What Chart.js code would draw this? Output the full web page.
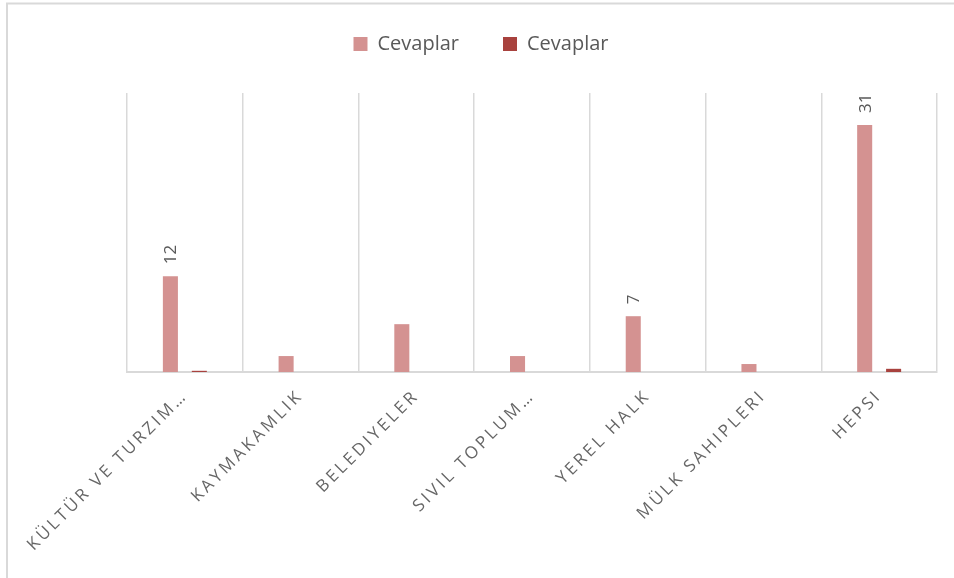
<!DOCTYPE html>
<html>
<head>
<meta charset="utf-8">
<script src="https://cdn.jsdelivr.net/npm/chart.js@4"></script>
<style>
  html, body { margin: 0; padding: 0; background: #fff; }
  #wrap { width: 954px; height: 578px; position: relative; }
</style>
</head>
<body>
<div id="wrap"><canvas id="chart" width="954" height="578"></canvas></div>
<script>
// chart data
const categories = ["KÜLTÜR VE TURZIM…", "KAYMAKAMLIK", "BELEDIYELER", "SIVIL TOPLUM…", "YEREL HALK", "MÜLK SAHIPLERI", "HEPSI"];
const answers = [12, 2, 6, 2, 7, 1, 31];
const answersShare = [0.15, 0, 0, 0, 0, 0, 0.4];
const labelShown = [true, false, false, false, true, false, true];
const yMax = 35;

const gray = "#595959";
const gridColor = "#d9d9d9";

// outer frame like the original sheet object
const framePlugin = {
    id: "frame",
    beforeDraw(chart) {
        const ctx = chart.ctx;
        ctx.save();
        ctx.strokeStyle = gridColor;
        ctx.lineWidth = 2;
        ctx.beginPath();
        ctx.moveTo(7, 578);
        ctx.lineTo(7, 3.5);
        ctx.lineTo(954, 3.5);
        ctx.stroke();
        ctx.restore();
    }
};

// legend: keep wide gap between items but pin its height
const legendFitPlugin = {
    id: "legendFit",
    beforeLayout(chart) {
        const lg = chart.legend;
        if (lg && !lg._wrapped) {
            const fit = lg.fit.bind(lg);
            lg.fit = function () {
                fit();
                this.height = 103;
            };
            lg._wrapped = true;
        }
    }
};

// letter-spaced category labels
const spacedTicksPlugin = {
    id: "spacedTicks",
    afterLayout(chart) {
        const s = chart.scales.x;
        if (s && !s._spaced) {
            const orig = s.drawLabels.bind(s);
            s.drawLabels = function (area) {
                chart.ctx.save();
                chart.ctx.letterSpacing = "3px";
                orig(area);
                chart.ctx.restore();
            };
            s._spaced = true;
        }
    }
};

// rotated value labels over selected bars
const valueLabelPlugin = {
    id: "valueLabels",
    afterDatasetsDraw(chart) {
        const ctx = chart.ctx;
        const meta = chart.getDatasetMeta(0);
        ctx.save();
        ctx.fillStyle = gray;
        ctx.font = "17px 'Open Sans'";
        ctx.textAlign = "left";
        ctx.textBaseline = "middle";
        meta.data.forEach((bar, i) => {
            if (!labelShown[i]) return;
            ctx.save();
            ctx.translate(bar.x + 1, bar.y - 12);
            ctx.rotate(-Math.PI / 2);
            ctx.fillText(String(answers[i]), 0, 0);
            ctx.restore();
        });
        ctx.restore();
    }
};

new Chart(document.getElementById("chart"), {
    type: "bar",
    data: {
        labels: categories,
        datasets: [{
            label: "Cevaplar",
            data: answers,
            backgroundColor: "#d49291",
            categoryPercentage: 0.5,
            barPercentage: 0.52
        }, {
            label: "Cevaplar",
            data: answersShare,
            backgroundColor: "#a8423e",
            categoryPercentage: 0.5,
            barPercentage: 0.52
        }]
    },
    options: {
        responsive: false,
        animation: false,
        layout: { padding: { top: -10, left: 25, right: 17, bottom: 0 } },
        plugins: {
            legend: {
                position: "top",
                labels: {
                    color: gray,
                    font: { family: "'Open Sans'", size: 20 },
                    boxWidth: 14,
                    boxHeight: 14,
                    padding: 44
                }
            },
            tooltip: { enabled: false }
        },
        scales: {
            x: {
                grid: { offset: true, drawTicks: false, color: gridColor, lineWidth: 1.5 },
                border: { color: gridColor, width: 2 },
                ticks: {
                    color: "#666666",
                    font: { family: "'Open Sans'", size: 17 },
                    minRotation: 45,
                    maxRotation: 45,
                    autoSkip: false,
                    padding: 14
                },
                afterFit(scale) { scale.height = 206; }
            },
            y: {
                display: true,
                min: 0,
                max: yMax,
                grid: { display: false },
                border: { display: false },
                ticks: { display: false },
                afterFit(scale) { scale.width = 102; }
            }
        }
    },
    plugins: [framePlugin, legendFitPlugin, spacedTicksPlugin, valueLabelPlugin]
});
</script>
</body>
</html>
